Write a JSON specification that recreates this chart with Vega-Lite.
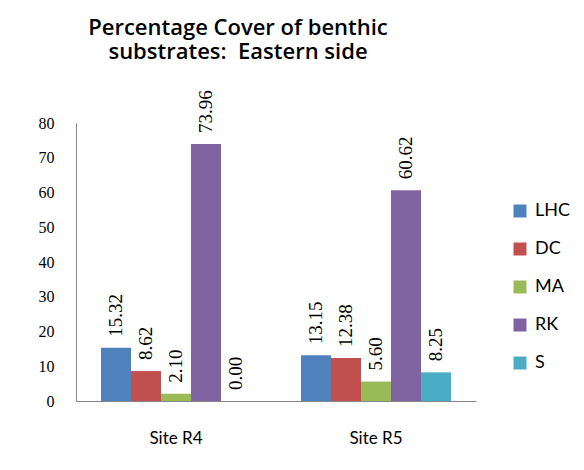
{
  "$schema": "https://vega.github.io/schema/vega-lite/v6.json",
  "autosize": "none",
  "padding": {"left": 76, "top": 123, "right": 108, "bottom": 69},
  "width": 400,
  "height": 278,
  "background": "white",
  "title": {
    "text": ["Percentage Cover of benthic", "substrates:\u00a0 Eastern side"],
    "anchor": "start",
    "frame": "group",
    "align": "center",
    "dx": 162,
    "font": "Open Sans",
    "fontSize": 22,
    "fontWeight": 600,
    "lineHeight": 24,
    "color": "black",
    "offset": 26
  },
  "data": {
    "values": [
      {"site": "Site R4", "substrate": "LHC", "value": 15.32},
      {"site": "Site R4", "substrate": "DC", "value": 8.62},
      {"site": "Site R4", "substrate": "MA", "value": 2.10},
      {"site": "Site R4", "substrate": "RK", "value": 73.96},
      {"site": "Site R4", "substrate": "S", "value": 0.00},
      {"site": "Site R5", "substrate": "LHC", "value": 13.15},
      {"site": "Site R5", "substrate": "DC", "value": 12.38},
      {"site": "Site R5", "substrate": "MA", "value": 5.60},
      {"site": "Site R5", "substrate": "RK", "value": 60.62},
      {"site": "Site R5", "substrate": "S", "value": 8.25}
    ]
  },
  "encoding": {
    "x": {
      "field": "site", "type": "nominal",
      "scale": {"paddingInner": 0.25, "paddingOuter": 0.125},
      "axis": {
        "title": null, "labelAngle": 0, "ticks": false, "tickSize": 0,
        "labelFont": "Lato", "labelFontSize": 17, "labelColor": "black",
        "labelPadding": 29, "domainColor": "#868686"
      }
    },
    "xOffset": {
      "field": "substrate", "type": "nominal",
      "sort": ["LHC", "DC", "MA", "RK", "S"],
      "scale": {"paddingInner": 0, "paddingOuter": 0}
    },
    "y": {
      "field": "value", "type": "quantitative",
      "scale": {"domain": [0, 80], "nice": false},
      "axis": {
        "title": null, "values": [0, 10, 20, 30, 40, 50, 60, 70, 80],
        "grid": false, "ticks": false, "tickSize": 0,
        "labelFont": "Liberation Serif", "labelFontSize": 16, "labelColor": "black",
        "labelPadding": 22, "domainColor": "#868686"
      }
    }
  },
  "layer": [
    {
      "mark": {"type": "bar"},
      "encoding": {
        "color": {
          "field": "substrate", "type": "nominal",
          "sort": ["LHC", "DC", "MA", "RK", "S"],
          "scale": {
            "domain": ["LHC", "DC", "MA", "RK", "S"],
            "range": ["#4F81BD", "#C0504D", "#9BBB59", "#8064A2", "#4BACC6"]
          },
          "legend": {
            "title": null, "orient": "none", "legendX": 435, "legendY": 79,
            "symbolType": "square", "symbolSize": 169, "symbolStrokeWidth": 0,
            "labelFont": "Lato", "labelFontSize": 18, "labelColor": "black",
            "rowPadding": 20, "labelOffset": 6
          }
        }
      }
    },
    {
      "mark": {
        "type": "text", "angle": 270, "align": "left", "baseline": "middle",
        "dx": 11, "font": "Liberation Serif", "fontSize": 19, "color": "black"
      },
      "encoding": {
        "text": {"field": "value", "type": "quantitative", "format": ".2f"}
      }
    }
  ],
  "config": {"view": {"stroke": null}}
}
